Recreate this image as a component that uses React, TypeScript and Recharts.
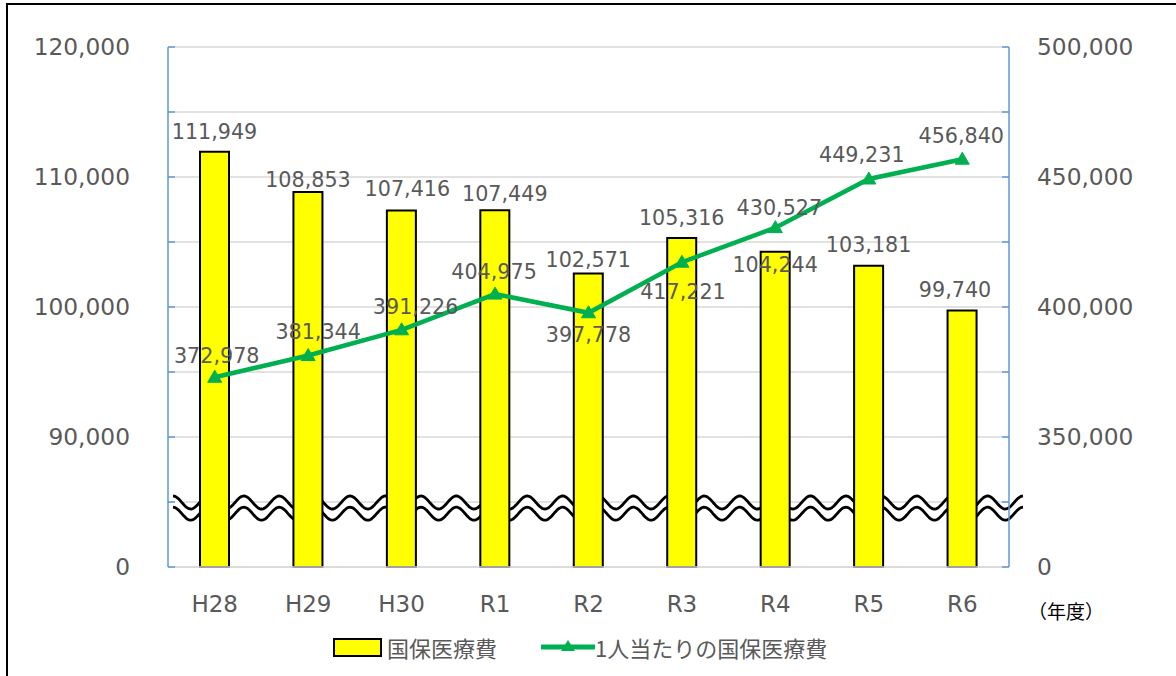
import React from "react"
import {
  ComposedChart,
  Bar,
  Line,
  XAxis,
  YAxis,
  CartesianGrid,
  Legend,
  LabelList,
  ReferenceArea,
} from "recharts"

// 年度
const years = ["H28", "H29", "H30", "R1", "R2", "R3", "R4", "R5", "R6"]
// 国保医療費（百万円）
const totalCost = [111949, 108853, 107416, 107449, 102571, 105316, 104244, 103181, 99740]
// 1人当たりの国保医療費（円）
const perCapita = [372978, 381344, 391226, 404975, 397778, 417221, 430527, 449231, 456840]

const leftTicks = [80000, 85000, 90000, 95000, 100000, 105000, 110000, 115000, 120000]
const rightTicks = [300000, 325000, 350000, 375000, 400000, 425000, 450000, 475000, 500000]

// label nudges (dx, dy) relative to the mark, like hand-dragged Excel labels
const barLabelShift = [[0, -20], [0, -12], [6, -22], [10, -16], [0, -14], [0, -20], [0, 13], [0, -21], [-7, -20]]
const lineLabelShift = [[2, -21], [10, -24], [14, -23], [-1, -22], [0, 22], [1, 30], [4, -20], [-7, -24], [-1, -23]]

const data = years.map((name, i) => ({
  name,
  cost: totalCost[i],
  perCapita: perCapita[i],
}))

const FONT = '"DejaVu Sans", "Noto Sans CJK JP", sans-serif'
const JP_FONT = '"Noto Sans CJK JP", sans-serif'
const TEXT = "#595959"
const GREEN = "#00B050"
const AXIS_BLUE = "#5B9BD5"

const fmt = (v: number) => v.toLocaleString("en-US")

const leftFormat = (v: number) => (v === 80000 ? "0" : v % 10000 === 0 ? fmt(v) : "")
const rightFormat = (v: number) => (v === 300000 ? "0" : v % 50000 === 0 ? fmt(v) : "")

const makeLabel = (shift: number[][]) => (props: any) => {
  const { index, value } = props
  const vb = props.viewBox || {}
  const bx = Number(props.x ?? vb.x)
  const by = Number(props.y ?? vb.y)
  const w = Number(props.width ?? vb.width) || 0
  const [dx, dy] = shift[index] || [0, -20]
  return (
    <text
      x={bx + w / 2 + dx}
      y={by + dy}
      textAnchor="middle"
      dominantBaseline="central"
      fill={TEXT}
      fontSize={20.7}
      fontFamily={FONT}
    >
      {fmt(Number(value))}
    </text>
  )
}

const Triangle = (props: any) => {
  const { cx, cy, index } = props
  if (cx == null || cy == null) return <g key={index} />
  return (
    <path
      key={index}
      d={`M${cx},${cy - 7} L${cx + 7},${cy + 5} L${cx - 7},${cy + 5} Z`}
      fill={GREEN}
      stroke={GREEN}
    />
  )
}

// wavy double line for the broken axis
const BreakMark = (props: any) => {
  const { x, y, width, height } = props
  const x0 = x + 5
  const x1 = x + width + 14
  const periods = 24
  const P = (x1 - x0) / periods
  const A = 6.5
  const cTop = y + 7
  const cBot = y + height - 6.5
  const wave = (c: number) => {
    const pts: string[] = []
    for (let px = x0; px <= x1 + 0.01; px += 1) {
      const py = c - A * Math.cos((2 * Math.PI * (px - x0)) / P)
      pts.push(`${px.toFixed(1)},${py.toFixed(1)}`)
    }
    return pts
  }
  const top = wave(cTop)
  const bot = wave(cBot)
  const fill = `M${top.join(" L")} L${bot.slice().reverse().join(" L")} Z`
  return (
    <g>
      <path d={fill} fill="#fff" stroke="none" />
      <path d={`M${top.join(" L")}`} fill="none" stroke="#000" strokeWidth={2.8} />
      <path d={`M${bot.join(" L")}`} fill="none" stroke="#000" strokeWidth={2.8} />
    </g>
  )
}

const renderLegend = () => (
  <div
    style={{
      height: 46,
      boxSizing: "border-box",
      paddingBottom: 12,
      display: "flex",
      alignItems: "center",
      paddingLeft: 333,
      fontFamily: FONT,
      fontSize: 22,
      color: TEXT,
    }}
  >
    <span style={{ display: "inline-block", width: 45, height: 15, background: "#FFFF00", border: "2px solid #000" }} />
    <span style={{ marginLeft: 5, fontFamily: JP_FONT }}>国保医療費</span>
    <svg width={54} height={20} style={{ marginLeft: 44 }}>
      <line x1={1} y1={10} x2={53} y2={10} stroke={GREEN} strokeWidth={5} strokeLinecap="round" />
      <path d="M27,3 L34,14 L20,14 Z" fill={GREEN} />
    </svg>
    <span style={{ marginLeft: 0, fontFamily: JP_FONT }}>1人当たりの国保医療費</span>
  </div>
)

export default function App() {
  return (
    <div style={{ position: "absolute", left: 0, top: 0, width: 1176, height: 676, background: "#fff" }}>
      <div
        style={{
          position: "absolute",
          left: 6,
          top: 3,
          width: 1170,
          height: 673,
          boxSizing: "border-box",
          borderLeft: "2px solid #000",
          borderTop: "2px solid #000",
        }}
      />
      <ComposedChart
        width={1176}
        height={676}
        data={data}
        margin={{ top: 47, right: 0, bottom: 0, left: 0 }}
        style={{ position: "absolute", left: 0, top: 0 }}
      >
        <CartesianGrid yAxisId="left" vertical={false} stroke="#D9D9D9" strokeWidth={1.5} />
        <XAxis
          dataKey="name"
          height={63}
          axisLine={{ stroke: "#D9D9D9", strokeWidth: 1.5 }}
          tickLine={false}
          tickSize={0}
          tickMargin={29}
          tick={{ fill: TEXT, fontSize: 23, fontFamily: FONT }}
          interval={0}
        />
        <YAxis
          yAxisId="left"
          width={168}
          domain={[80000, 120000]}
          ticks={leftTicks}
          interval={0}
          tickFormatter={leftFormat}
          axisLine={{ stroke: AXIS_BLUE, strokeWidth: 1.5 }}
          tickLine={{ stroke: AXIS_BLUE, strokeWidth: 1.5 }}
          tickSize={-7}
          tickMargin={45}
          tick={{ fill: TEXT, fontSize: 23.3, fontFamily: FONT }}
        />
        <YAxis
          yAxisId="right"
          orientation="right"
          width={167}
          domain={[300000, 500000]}
          ticks={rightTicks}
          interval={0}
          tickFormatter={rightFormat}
          axisLine={{ stroke: AXIS_BLUE, strokeWidth: 1.5 }}
          tickLine={{ stroke: AXIS_BLUE, strokeWidth: 1.5 }}
          tickSize={-7}
          tickMargin={35}
          tick={{ fill: TEXT, fontSize: 23.3, fontFamily: FONT, textAnchor: "start" }}
        />
        <Legend verticalAlign="bottom" content={renderLegend} wrapperStyle={{ left: 0, width: 1176 }} />
        <Bar
          yAxisId="left"
          dataKey="cost"
          name="国保医療費"
          fill="#FFFF00"
          stroke="#000"
          strokeWidth={2}
          barSize={29}
          isAnimationActive={false}
        >
          <LabelList dataKey="cost" content={makeLabel(barLabelShift)} />
        </Bar>
        <Line
          yAxisId="right"
          dataKey="perCapita"
          name="1人当たりの国保医療費"
          stroke={GREEN}
          strokeWidth={4.5}
          dot={Triangle}
          activeDot={false}
          isAnimationActive={false}
        >
          <LabelList dataKey="perCapita" content={makeLabel(lineLabelShift)} />
        </Line>
        <ReferenceArea yAxisId="left" y1={83600} y2={85500} shape={BreakMark} />
      </ComposedChart>
      <div
        style={{
          position: "absolute",
          left: 1028,
          top: 597,
          fontFamily: JP_FONT,
          fontSize: 19,
          color: "#000",
          whiteSpace: "nowrap",
        }}
      >
        （年度）
      </div>
    </div>
  )
}
